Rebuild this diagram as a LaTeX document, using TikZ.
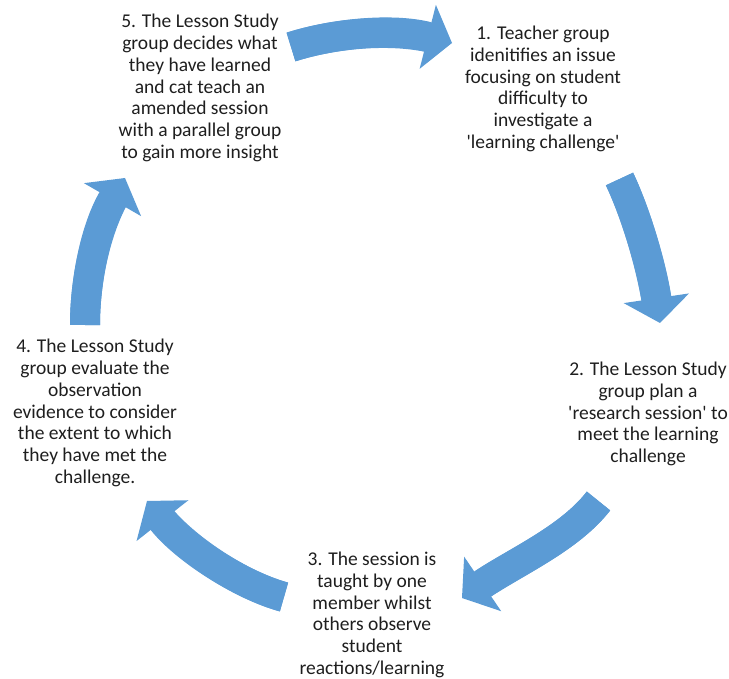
\documentclass[tikz,border=0pt]{standalone}
\usepackage{fontspec}
\setmainfont{Carlito}[Ligatures=TeXOff]
\usetikzlibrary{arrows.meta}
\definecolor{arrowblue}{HTML}{5B9BD5}
\definecolor{txt}{HTML}{1E1E1E}
\begin{document}
\begin{tikzpicture}[x=1pt,y=-1pt,
  steptext/.style={font=\fontsize{19.5}{21.7}\selectfont, align=center, inner sep=0pt, text=txt},
  cyc/.style={draw=arrowblue, line width=30pt, line cap=butt,
    -{Triangle[length=25pt,width=66pt,line width=0pt]}},
  cycshaft/.style={draw=arrowblue, line width=30pt, line cap=butt, shorten >=17pt}]
\useasboundingbox (0,0) rectangle (729,679);

\node[steptext] (s5) at (200,88) {5. The Lesson Study\\group decides what\\they have learned\\and cat teach an\\amended session\\with a parallel group\\to gain more insight};
\node[steptext] (s1) at (543,89) {1. Teacher group\\idenitifies an issue\\focusing on student\\difficulty to\\investigate a\\'learning challenge'};
\node[steptext] (s2) at (648,414) {2. The Lesson Study\\group plan a\\'research session' to\\meet the learning\\challenge};
\node[steptext] (s3) at (372,615) {3. The session is\\taught by one\\member whilst\\others observe\\student\\reactions/learning};
\node[steptext] (s4) at (95,413) {4. The Lesson Study\\group evaluate the\\observation\\evidence to consider\\the extent to which\\they have met the\\challenge.};

\coordinate (a1s) at (291,47);   \coordinate (a1p) at (335,33);  \coordinate (a1q) at (393,28);  \coordinate (a1e) at (452,43);
\coordinate (a2s) at (619.5,179);\coordinate (a2p) at (637,216); \coordinate (a2q) at (652,269); \coordinate (a2e) at (660,323);
\coordinate (a3s) at (598.5,501);\coordinate (a3p) at (569,539); \coordinate (a3q) at (515,562); \coordinate (a3e) at (462,598);
\coordinate (a4s) at (284,597);  \coordinate (a4p) at (240,585); \coordinate (a4q) at (184,548); \coordinate (a4e) at (147,501);
\coordinate (a5s) at (85,325);   \coordinate (a5p) at (85,282);  \coordinate (a5q) at (95,230);  \coordinate (a5e) at (125,178);

\foreach \a in {a1,a2,a3,a4,a5}{
  \draw[cyc] (\a s) .. controls (\a p) and (\a q) .. (\a e);
  \draw[cycshaft] (\a s) .. controls (\a p) and (\a q) .. (\a e);
}
\end{tikzpicture}
\end{document}
